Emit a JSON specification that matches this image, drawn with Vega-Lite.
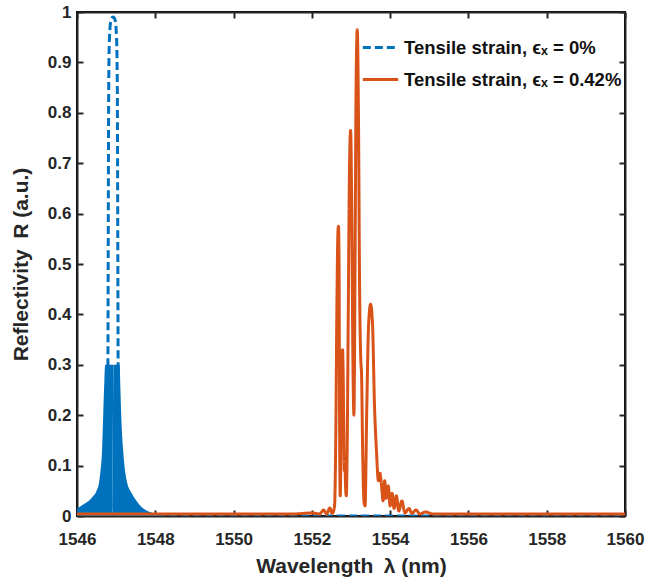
{
  "$schema": "https://vega.github.io/schema/vega-lite/v6.json",
  "width": 548,
  "height": 504,
  "autosize": {"type": "none"},
  "padding": {"left": 77, "top": 12, "right": 41, "bottom": 66},
  "background": "white",
  "config": {
    "font": "Liberation Sans",
    "view": {"stroke": "black", "strokeWidth": 2},
    "scale": {"continuousPadding": 0},
    "axis": {
      "grid": false,
      "labelFlush": false,
      "domainColor": "#262626",
      "domainWidth": 2,
      "tickColor": "#262626",
      "tickWidth": 2,
      "tickSize": -6,
      "labelFont": "Liberation Sans",
      "labelFontSize": 17,
      "labelFontWeight": "bold",
      "labelColor": "#262626",
      "titleFont": "Liberation Sans",
      "titleFontSize": 21,
      "titleFontWeight": "bold",
      "titleColor": "#262626"
    },
    "legend": {
      "orient": "none",
      "legendX": 284,
      "legendY": 16,
      "padding": 0,
      "title": null,
      "labelFont": "Liberation Sans",
      "labelFontSize": 18.5,
      "labelFontWeight": "bold",
      "labelColor": "#111111",
      "labelLimit": 400,
      "symbolType": "stroke",
      "symbolSize": 1250,
      "symbolStrokeWidth": 3,
      "rowPadding": 3,
      "labelOffset": 4
    }
  },
  "datasets": {
    "fill": [
      {"lam": 1546.0, "R": 0.015, "part": "L"},
      {"lam": 1546.1, "R": 0.02, "part": "L"},
      {"lam": 1546.2, "R": 0.025, "part": "L"},
      {"lam": 1546.3, "R": 0.03, "part": "L"},
      {"lam": 1546.4, "R": 0.038, "part": "L"},
      {"lam": 1546.5, "R": 0.05, "part": "L"},
      {"lam": 1546.56, "R": 0.065, "part": "L"},
      {"lam": 1546.6, "R": 0.09, "part": "L"},
      {"lam": 1546.64, "R": 0.13, "part": "L"},
      {"lam": 1546.67, "R": 0.2, "part": "L"},
      {"lam": 1546.7, "R": 0.27, "part": "L"},
      {"lam": 1546.72, "R": 0.3, "part": "L"},
      {"lam": 1546.905, "R": 0.3, "part": "L"},
      {"lam": 1546.935, "R": 0.3, "part": "R"},
      {"lam": 1547.09, "R": 0.3, "part": "R"},
      {"lam": 1547.11, "R": 0.25, "part": "R"},
      {"lam": 1547.13, "R": 0.2, "part": "R"},
      {"lam": 1547.18, "R": 0.13, "part": "R"},
      {"lam": 1547.27, "R": 0.07, "part": "R"},
      {"lam": 1547.4, "R": 0.045, "part": "R"},
      {"lam": 1547.5, "R": 0.032, "part": "R"},
      {"lam": 1547.6, "R": 0.022, "part": "R"},
      {"lam": 1547.75, "R": 0.012, "part": "R"},
      {"lam": 1547.9, "R": 0.007, "part": "R"},
      {"lam": 1548.1, "R": 0.003, "part": "R"},
      {"lam": 1548.4, "R": 0.0, "part": "R"}
    ],
    "blue": [
      {"lam": 1546.0, "R": 0.0, "series": "Tensile strain, ϵₓ = 0%"},
      {"lam": 1546.77, "R": 0.0, "series": "Tensile strain, ϵₓ = 0%"},
      {"lam": 1546.79, "R": 0.3, "series": "Tensile strain, ϵₓ = 0%"},
      {"lam": 1546.8, "R": 0.6, "series": "Tensile strain, ϵₓ = 0%"},
      {"lam": 1546.81, "R": 0.85, "series": "Tensile strain, ϵₓ = 0%"},
      {"lam": 1546.83, "R": 0.95, "series": "Tensile strain, ϵₓ = 0%"},
      {"lam": 1546.87, "R": 0.985, "series": "Tensile strain, ϵₓ = 0%"},
      {"lam": 1546.92, "R": 0.99, "series": "Tensile strain, ϵₓ = 0%"},
      {"lam": 1546.97, "R": 0.985, "series": "Tensile strain, ϵₓ = 0%"},
      {"lam": 1547.01, "R": 0.95, "series": "Tensile strain, ϵₓ = 0%"},
      {"lam": 1547.03, "R": 0.85, "series": "Tensile strain, ϵₓ = 0%"},
      {"lam": 1547.04, "R": 0.6, "series": "Tensile strain, ϵₓ = 0%"},
      {"lam": 1547.05, "R": 0.3, "series": "Tensile strain, ϵₓ = 0%"},
      {"lam": 1547.07, "R": 0.0, "series": "Tensile strain, ϵₓ = 0%"},
      {"lam": 1560.0, "R": 0.0, "series": "Tensile strain, ϵₓ = 0%"}
    ],
    "orange": [
      {"lam": 1546.0, "R": 0.004, "series": "Tensile strain, ϵₓ = 0.42%"},
      {"lam": 1551.5, "R": 0.004, "series": "Tensile strain, ϵₓ = 0.42%"},
      {"lam": 1552.0, "R": 0.006, "series": "Tensile strain, ϵₓ = 0.42%"},
      {"lam": 1552.2, "R": 0.004, "series": "Tensile strain, ϵₓ = 0.42%"},
      {"lam": 1552.3, "R": 0.012, "series": "Tensile strain, ϵₓ = 0.42%"},
      {"lam": 1552.38, "R": 0.004, "series": "Tensile strain, ϵₓ = 0.42%"},
      {"lam": 1552.46, "R": 0.016, "series": "Tensile strain, ϵₓ = 0.42%"},
      {"lam": 1552.52, "R": 0.005, "series": "Tensile strain, ϵₓ = 0.42%"},
      {"lam": 1552.58, "R": 0.02, "series": "Tensile strain, ϵₓ = 0.42%"},
      {"lam": 1552.61, "R": 0.15, "series": "Tensile strain, ϵₓ = 0.42%"},
      {"lam": 1552.64, "R": 0.42, "series": "Tensile strain, ϵₓ = 0.42%"},
      {"lam": 1552.665, "R": 0.56, "series": "Tensile strain, ϵₓ = 0.42%"},
      {"lam": 1552.68, "R": 0.575, "series": "Tensile strain, ϵₓ = 0.42%"},
      {"lam": 1552.695, "R": 0.5, "series": "Tensile strain, ϵₓ = 0.42%"},
      {"lam": 1552.71, "R": 0.15, "series": "Tensile strain, ϵₓ = 0.42%"},
      {"lam": 1552.725, "R": 0.04, "series": "Tensile strain, ϵₓ = 0.42%"},
      {"lam": 1552.745, "R": 0.15, "series": "Tensile strain, ϵₓ = 0.42%"},
      {"lam": 1552.765, "R": 0.3, "series": "Tensile strain, ϵₓ = 0.42%"},
      {"lam": 1552.785, "R": 0.33, "series": "Tensile strain, ϵₓ = 0.42%"},
      {"lam": 1552.8, "R": 0.28, "series": "Tensile strain, ϵₓ = 0.42%"},
      {"lam": 1552.815, "R": 0.18, "series": "Tensile strain, ϵₓ = 0.42%"},
      {"lam": 1552.83, "R": 0.09, "series": "Tensile strain, ϵₓ = 0.42%"},
      {"lam": 1552.845, "R": 0.1, "series": "Tensile strain, ϵₓ = 0.42%"},
      {"lam": 1552.86, "R": 0.06, "series": "Tensile strain, ϵₓ = 0.42%"},
      {"lam": 1552.88, "R": 0.04, "series": "Tensile strain, ϵₓ = 0.42%"},
      {"lam": 1552.9, "R": 0.12, "series": "Tensile strain, ϵₓ = 0.42%"},
      {"lam": 1552.93, "R": 0.4, "series": "Tensile strain, ϵₓ = 0.42%"},
      {"lam": 1552.96, "R": 0.68, "series": "Tensile strain, ϵₓ = 0.42%"},
      {"lam": 1552.99, "R": 0.765, "series": "Tensile strain, ϵₓ = 0.42%"},
      {"lam": 1553.02, "R": 0.6, "series": "Tensile strain, ϵₓ = 0.42%"},
      {"lam": 1553.05, "R": 0.3, "series": "Tensile strain, ϵₓ = 0.42%"},
      {"lam": 1553.075, "R": 0.2, "series": "Tensile strain, ϵₓ = 0.42%"},
      {"lam": 1553.1, "R": 0.45, "series": "Tensile strain, ϵₓ = 0.42%"},
      {"lam": 1553.13, "R": 0.85, "series": "Tensile strain, ϵₓ = 0.42%"},
      {"lam": 1553.16, "R": 0.965, "series": "Tensile strain, ϵₓ = 0.42%"},
      {"lam": 1553.19, "R": 0.8, "series": "Tensile strain, ϵₓ = 0.42%"},
      {"lam": 1553.22, "R": 0.45, "series": "Tensile strain, ϵₓ = 0.42%"},
      {"lam": 1553.25, "R": 0.31, "series": "Tensile strain, ϵₓ = 0.42%"},
      {"lam": 1553.27, "R": 0.28, "series": "Tensile strain, ϵₓ = 0.42%"},
      {"lam": 1553.3, "R": 0.12, "series": "Tensile strain, ϵₓ = 0.42%"},
      {"lam": 1553.33, "R": 0.03, "series": "Tensile strain, ϵₓ = 0.42%"},
      {"lam": 1553.36, "R": 0.02, "series": "Tensile strain, ϵₓ = 0.42%"},
      {"lam": 1553.4, "R": 0.2, "series": "Tensile strain, ϵₓ = 0.42%"},
      {"lam": 1553.45, "R": 0.38, "series": "Tensile strain, ϵₓ = 0.42%"},
      {"lam": 1553.5, "R": 0.42, "series": "Tensile strain, ϵₓ = 0.42%"},
      {"lam": 1553.55, "R": 0.38, "series": "Tensile strain, ϵₓ = 0.42%"},
      {"lam": 1553.6, "R": 0.22, "series": "Tensile strain, ϵₓ = 0.42%"},
      {"lam": 1553.65, "R": 0.13, "series": "Tensile strain, ϵₓ = 0.42%"},
      {"lam": 1553.7, "R": 0.07, "series": "Tensile strain, ϵₓ = 0.42%"},
      {"lam": 1553.74, "R": 0.085, "series": "Tensile strain, ϵₓ = 0.42%"},
      {"lam": 1553.78, "R": 0.06, "series": "Tensile strain, ϵₓ = 0.42%"},
      {"lam": 1553.82, "R": 0.03, "series": "Tensile strain, ϵₓ = 0.42%"},
      {"lam": 1553.86, "R": 0.07, "series": "Tensile strain, ϵₓ = 0.42%"},
      {"lam": 1553.9, "R": 0.035, "series": "Tensile strain, ϵₓ = 0.42%"},
      {"lam": 1553.95, "R": 0.06, "series": "Tensile strain, ϵₓ = 0.42%"},
      {"lam": 1554.0, "R": 0.02, "series": "Tensile strain, ϵₓ = 0.42%"},
      {"lam": 1554.05, "R": 0.045, "series": "Tensile strain, ϵₓ = 0.42%"},
      {"lam": 1554.1, "R": 0.015, "series": "Tensile strain, ϵₓ = 0.42%"},
      {"lam": 1554.16, "R": 0.04, "series": "Tensile strain, ϵₓ = 0.42%"},
      {"lam": 1554.22, "R": 0.01, "series": "Tensile strain, ϵₓ = 0.42%"},
      {"lam": 1554.3, "R": 0.03, "series": "Tensile strain, ϵₓ = 0.42%"},
      {"lam": 1554.38, "R": 0.006, "series": "Tensile strain, ϵₓ = 0.42%"},
      {"lam": 1554.48, "R": 0.015, "series": "Tensile strain, ϵₓ = 0.42%"},
      {"lam": 1554.56, "R": 0.005, "series": "Tensile strain, ϵₓ = 0.42%"},
      {"lam": 1554.66, "R": 0.012, "series": "Tensile strain, ϵₓ = 0.42%"},
      {"lam": 1554.76, "R": 0.004, "series": "Tensile strain, ϵₓ = 0.42%"},
      {"lam": 1554.9, "R": 0.008, "series": "Tensile strain, ϵₓ = 0.42%"},
      {"lam": 1555.1, "R": 0.004, "series": "Tensile strain, ϵₓ = 0.42%"},
      {"lam": 1560.0, "R": 0.004, "series": "Tensile strain, ϵₓ = 0.42%"}
    ]
  },
  "resolve": {"axis": {"x": "independent", "y": "independent"}},
  "layer": [
    {
      "data": {"name": "fill"},
      "mark": {"type": "area", "color": "#0072BD", "interpolate": "monotone", "clip": true},
      "encoding": {
        "x": {"field": "lam", "type": "quantitative", "scale": {"domain": [1546, 1560], "nice": false, "zero": false, "padding": 0},
          "axis": {"title": "Wavelength\u2002λ (nm)", "values": [1546, 1548, 1550, 1552, 1554, 1556, 1558, 1560], "format": "d", "labelPadding": 21, "titlePadding": 8}},
        "y": {"field": "R", "type": "quantitative", "scale": {"domain": [0, 1], "nice": false, "zero": false, "padding": 0},
          "axis": {"title": "Reflectivity\u2002R (a.u.)", "values": [0, 0.1, 0.2, 0.3, 0.4, 0.5, 0.6, 0.7, 0.8, 0.9, 1], "format": ".1~f", "labelPadding": 12, "titlePadding": 16}},
        "detail": {"field": "part"}
      }
    },
    {
      "data": {"name": "blue"},
      "mark": {"type": "line", "strokeWidth": 3, "interpolate": "monotone", "clip": true},
      "encoding": {
        "x": {"field": "lam", "type": "quantitative", "axis": null},
        "y": {"field": "R", "type": "quantitative", "axis": null},
        "color": {"field": "series", "type": "nominal", "scale": {"domain": ["Tensile strain, ϵₓ = 0%", "Tensile strain, ϵₓ = 0.42%"], "range": ["#0072BD", "#D95319"]}},
        "strokeDash": {"field": "series", "type": "nominal", "scale": {"domain": ["Tensile strain, ϵₓ = 0%", "Tensile strain, ϵₓ = 0.42%"], "range": [[8, 4], [1, 0]]}}
      }
    },
    {
      "data": {"name": "orange"},
      "mark": {"type": "line", "strokeWidth": 3, "interpolate": "monotone", "clip": true},
      "encoding": {
        "x": {"field": "lam", "type": "quantitative", "axis": null},
        "y": {"field": "R", "type": "quantitative", "axis": null},
        "color": {"field": "series", "type": "nominal"},
        "strokeDash": {"field": "series", "type": "nominal"}
      }
    },
    {
      "data": {"name": "orange"},
      "mark": {"type": "line", "opacity": 0},
      "encoding": {
        "x": {"field": "lam", "type": "quantitative", "axis": {"orient": "top", "labels": false, "title": null, "values": [1546, 1548, 1550, 1552, 1554, 1556, 1558, 1560]}},
        "y": {"field": "R", "type": "quantitative", "axis": {"orient": "right", "labels": false, "title": null, "values": [0, 0.1, 0.2, 0.3, 0.4, 0.5, 0.6, 0.7, 0.8, 0.9, 1]}}
      }
    }
  ]
}
